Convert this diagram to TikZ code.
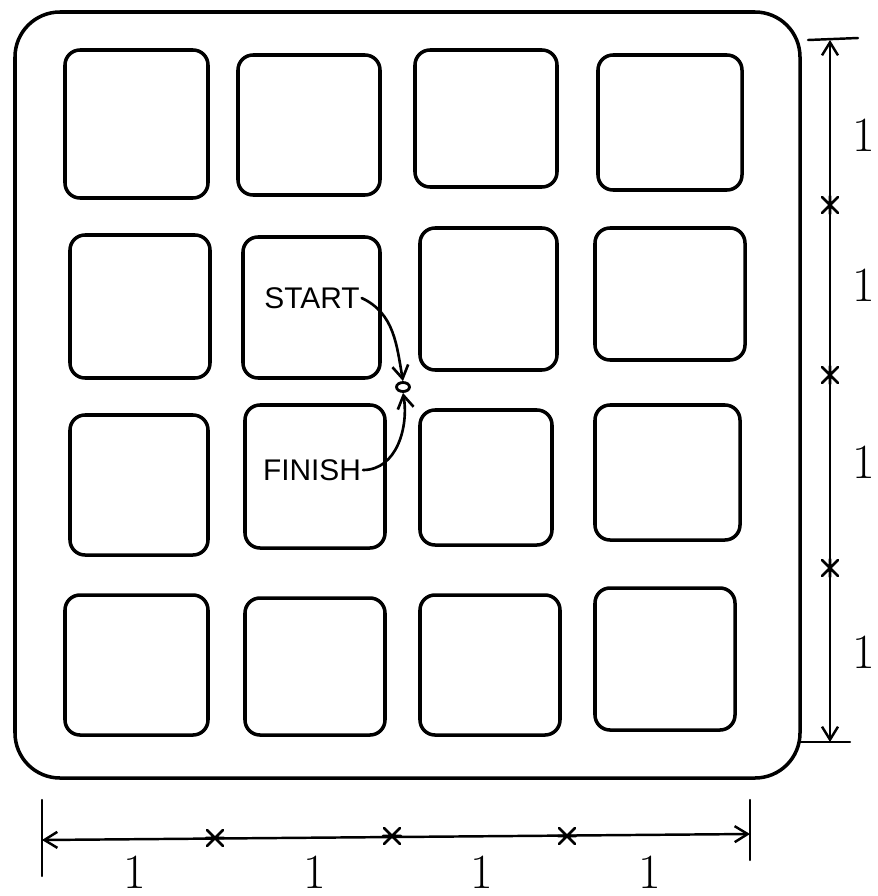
\documentclass[tikz,border=0pt]{standalone}
\usepackage{fontspec}
\newfontfamily\handfont{Liberation Sans}
\usetikzlibrary{arrows.meta, positioning, shapes.geometric}
\tikzset{
  >={Straight Barb[length=2.6mm, width=3.2mm]},
  pen/.style={line width=2pt, black, line cap=round, line join=round},
  cellbox/.style={pen, rounded corners=0.3cm},
  dimline/.style={pen, line width=1.4pt, <->},
  dimtick/.style={pen, line width=1.4pt},
  unitlabel/.style={font=\fontsize{28}{28}\selectfont, inner sep=0pt},
  marklabel/.style={font=\handfont\fontsize{17}{17}\selectfont, inner sep=1pt},
  dimstar/.pic={\draw[pen, line width=1.5pt] (-8,-8) -- (8,8) (-8,8) -- (8,-8) (-9,0) -- (9,0);}
}
\begin{document}
\begin{tikzpicture}[x=0.02cm, y=-0.02cm]
    \useasboundingbox (0,0) rectangle (878,896);

    % --- OUTER FRAME ---
    \draw[pen, rounded corners=0.9cm] (15,12) rectangle (800,778);

    % --- 4x4 CELLS ---
    \foreach \xa/\ya/\xb/\yb in {
        65/50/208/198, 238/55/380/195, 415/50/557/187, 598/55/742/190,
        70/235/210/378, 243/237/380/378, 420/228/557/370, 595/228/745/360,
        70/415/208/555, 245/405/385/548, 420/410/552/545, 595/405/740/540,
        65/595/208/735, 245/598/385/735, 420/595/560/735, 595/588/735/730}
      \draw[cellbox] (\xa,\ya) rectangle (\xb,\yb);

    % --- START / FINISH ---
    \node[ellipse, draw, line width=1.6pt, minimum width=0.26cm, minimum height=0.18cm, inner sep=0pt] (spot) at (403,387) {};
    \node[marklabel] (start) at (312,298) {START};
    \node[marklabel] (finish) at (312,470) {FINISH};
    \draw[pen, line width=1.5pt, ->] (start.east) to[out=-25, in=100] (spot.north);
    \draw[pen, line width=1.5pt, ->] (finish.east) to[out=0, in=-80] (spot.south);

    % --- RIGHT DIMENSION ---
    \coordinate (rtop) at (830,40);
    \coordinate (rbot) at (830,742);
    \draw[dimtick] (808,40) -- (858,38);
    \draw[dimtick] (800,742) -- (850,742);
    \draw[dimline] (rtop) -- (rbot);
    \foreach \y in {205,375,568}
      \pic[rotate=90] at (830,\y) {dimstar};
    \foreach \y in {135,285,462,652}
      \node[unitlabel] at (864,\y) {1};

    % --- BOTTOM DIMENSION ---
    \coordinate (bleft) at (42,840);
    \coordinate (bright) at (750,834);
    \draw[dimtick] (42,800) -- (42,876);
    \draw[dimtick] (750,800) -- (750,860);
    \draw[dimline] (bleft) -- (bright);
    \foreach \x/\y in {215/838, 392/836, 567/836}
      \pic at (\x,\y) {dimstar};
    \foreach \x in {135,315,482,650}
      \node[unitlabel] at (\x,872) {1};
\end{tikzpicture}
\end{document}
